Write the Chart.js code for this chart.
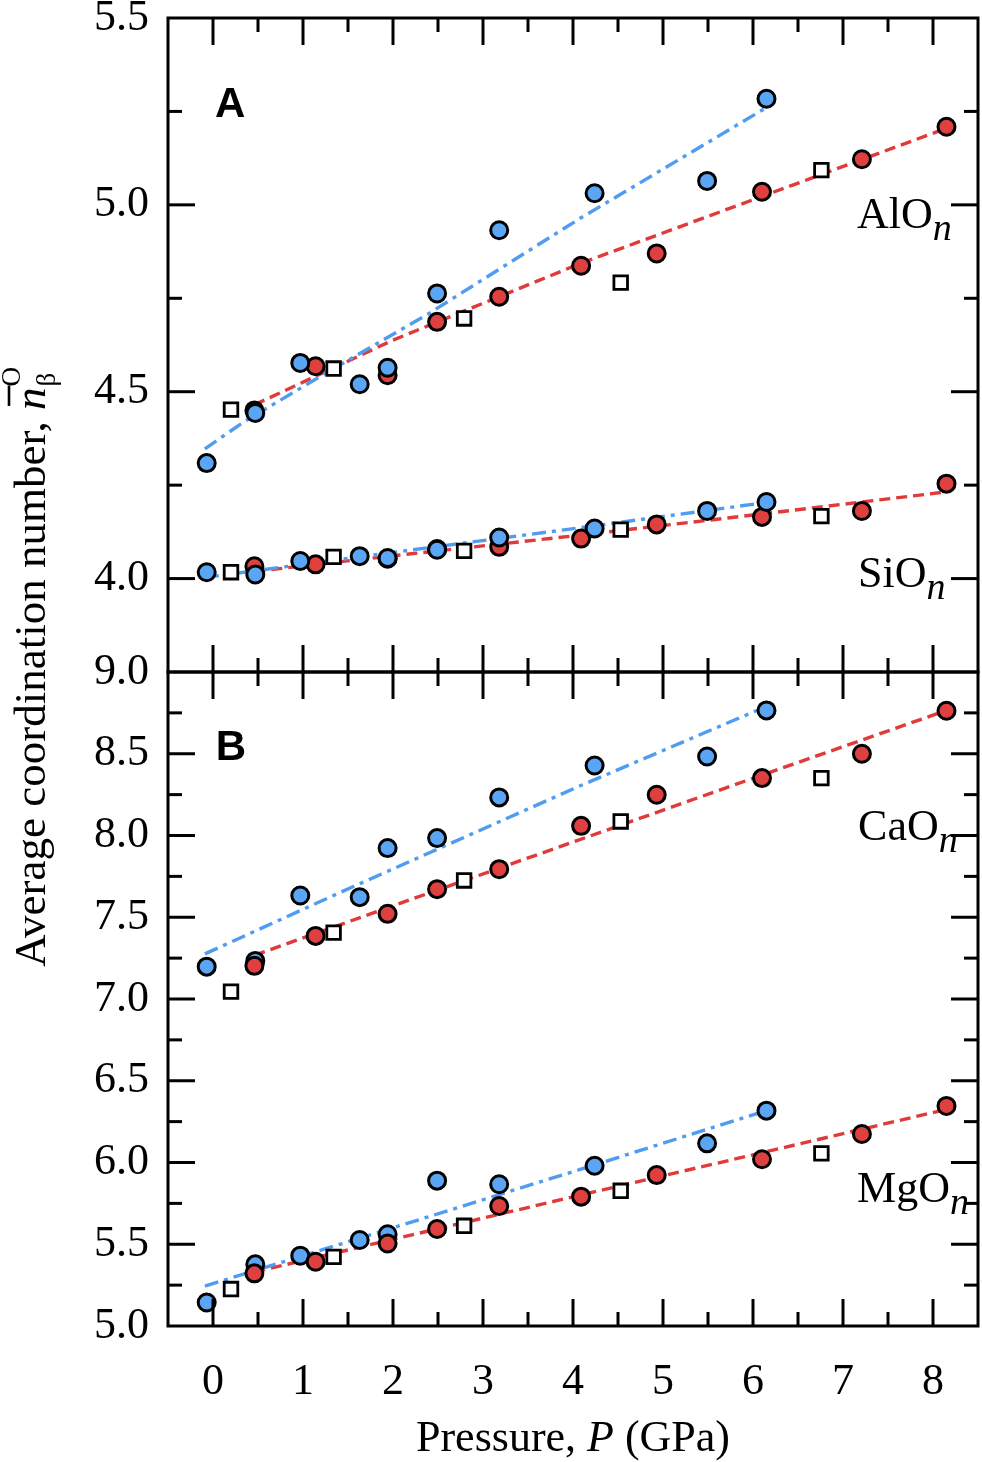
<!DOCTYPE html>
<html>
<head>
<meta charset="utf-8">
<script src="https://cdn.jsdelivr.net/npm/chart.js@4.4.1/dist/chart.umd.min.js"></script>
<style>
html,body{margin:0;padding:0;background:#fff;}
#c{display:block;}
</style>
</head>
<body>
<canvas id="c" width="982" height="1462" style="width:982px;height:1462px"></canvas>
<script>
// ---- pressures (GPa) ----
const pressBlue   = [-0.07, 0.47, 0.97, 1.63, 1.94, 2.49, 3.18, 4.24, 5.49, 6.15];
const pressRed    = [0.46, 1.14, 1.94, 2.49, 3.18, 4.09, 4.93, 6.10, 7.21, 8.15];
const pressSquare = [0.20, 1.34, 2.79, 4.53, 6.76];

// ---- panel A: AlO_n ----
const alBlue   = [4.309, 4.443, 4.577, 4.520, 4.564, 4.763, 4.932, 5.031, 5.064, 5.284];
const alRed    = [4.450, 4.568, 4.544, 4.687, 4.754, 4.837, 4.870, 5.035, 5.122, 5.209];
const alSquare = [4.452, 4.562, 4.696, 4.792, 5.093];
const alBlueFitP = [-0.09, 0.34, 1.34, 2.37, 4.08, 6.14];
const alBlueFit  = [4.347, 4.419, 4.562, 4.705, 4.964, 5.259];
const alRedFitP  = [0.46, 2.00, 4.08, 6.15, 8.15];
const alRedFit   = [4.465, 4.638, 4.843, 5.027, 5.205];

// ---- panel A: SiO_n ----
const siBlue   = [4.017, 4.011, 4.047, 4.060, 4.055, 4.077, 4.110, 4.134, 4.181, 4.205];
const siRed    = [4.033, 4.038, 4.053, 4.079, 4.085, 4.107, 4.145, 4.165, 4.181, 4.254];
const siSquare = [4.017, 4.058, 4.074, 4.131, 4.167];
const siBlueFitP = [-0.09, 2.00, 4.08, 6.13];
const siBlueFit  = [4.003, 4.070, 4.136, 4.203];
const siRedFitP  = [0.46, 2.00, 4.00, 6.00, 8.15];
const siRedFit   = [4.019, 4.061, 4.114, 4.170, 4.232];

// ---- panel B: CaO_n ----
const caBlue   = [7.198, 7.233, 7.633, 7.623, 7.923, 7.984, 8.233, 8.428, 8.483, 8.765];
const caRed    = [7.203, 7.386, 7.521, 7.672, 7.794, 8.059, 8.249, 8.351, 8.500, 8.763];
const caSquare = [7.045, 7.406, 7.725, 8.086, 8.351];
const caBlueFitP = [-0.09, 1.56, 4.08, 6.10];
const caBlueFit  = [7.276, 7.688, 8.304, 8.778];
const caRedFitP  = [0.46, 2.00, 4.00, 6.00, 8.15];
const caRedFit   = [7.267, 7.570, 7.960, 8.350, 8.765];

// ---- panel B: MgO_n ----
const mgBlue   = [5.144, 5.377, 5.430, 5.526, 5.561, 5.889, 5.867, 5.980, 6.117, 6.317];
const mgRed    = [5.322, 5.393, 5.505, 5.593, 5.734, 5.791, 5.923, 6.020, 6.174, 6.346];
const mgSquare = [5.226, 5.423, 5.613, 5.827, 6.056];
const mgBlueFitP = [-0.09, 1.94, 4.08, 6.05];
const mgBlueFit  = [5.244, 5.590, 5.958, 6.300];
const mgRedFitP  = [0.46, 2.00, 4.00, 6.00, 8.15];
const mgRedFit   = [5.330, 5.530, 5.790, 6.047, 6.325];

// ---- ticks ----
const xLabelTicks = [0, 1, 2, 3, 4, 5, 6, 7, 8];
const xMinorTicks = [0.5, 1.5, 2.5, 3.5, 4.5, 5.5, 6.5, 7.5];
const yALabelTicks = [4.0, 4.5, 5.0, 5.5];
const yAMajorTicks = [4.0, 4.5, 5.0];
const yAMinorTicks = [3.75, 4.25, 4.75, 5.25];
const yBLabelTicks = [5.0, 5.5, 6.0, 6.5, 7.0, 7.5, 8.0, 8.5, 9.0];
const yBMajorTicks = [5.5, 6.0, 6.5, 7.0, 7.5, 8.0, 8.5];
const yBMinorTicks = [5.25, 5.75, 6.25, 6.75, 7.25, 7.75, 8.25, 8.75];

// ---- styles ----
const BLUE = '#5BA6F4';
const RED = '#DE4040';
const LBLUE = '#4F9CF0';
const LRED = '#E03A3A';
const SERIF = '"Liberation Serif", "Times New Roman", serif';
const SANS = '"Liberation Sans", Arial, sans-serif';

function pts(xs, ys) { return xs.map((x, i) => ({ x: x, y: ys[i] })); }

function fitLine(xs, ys, axis, color, dash) {
  return { type: 'scatter', data: pts(xs, ys), yAxisID: axis, showLine: true,
    borderColor: color, borderWidth: 3.4, borderDash: dash, pointRadius: 0,
    pointHoverRadius: 0, fill: false, order: 20 };
}
function circles(xs, ys, axis, color, order) {
  return { type: 'scatter', data: pts(xs, ys), yAxisID: axis, showLine: false,
    pointStyle: 'circle', pointRadius: 8.5, pointBorderWidth: 3,
    pointBackgroundColor: color, pointBorderColor: '#000', order: order };
}
function squares(xs, ys, axis) {
  return { type: 'scatter', data: pts(xs, ys), yAxisID: axis, showLine: false,
    pointStyle: 'rect', pointRadius: 9.6, pointBorderWidth: 2.8,
    pointBackgroundColor: '#fff', pointBorderColor: '#000', order: 5 };
}

const dashBlue = [14, 6, 4, 6];
const dashRed = [11, 6];

const datasets = [
  fitLine(alBlueFitP, alBlueFit, 'yA', LBLUE, dashBlue),
  fitLine(alRedFitP, alRedFit, 'yA', LRED, dashRed),
  fitLine(siBlueFitP, siBlueFit, 'yA', LBLUE, dashBlue),
  fitLine(siRedFitP, siRedFit, 'yA', LRED, dashRed),
  fitLine(caBlueFitP, caBlueFit, 'yB', LBLUE, dashBlue),
  fitLine(caRedFitP, caRedFit, 'yB', LRED, dashRed),
  fitLine(mgBlueFitP, mgBlueFit, 'yB', LBLUE, dashBlue),
  fitLine(mgRedFitP, mgRedFit, 'yB', LRED, dashRed),
  // panel A: blue drawn over red
  circles(pressRed, alRed, 'yA', RED, 4),
  circles(pressBlue, alBlue, 'yA', BLUE, 3),
  circles(pressRed, siRed, 'yA', RED, 4),
  circles(pressBlue, siBlue, 'yA', BLUE, 3),
  squares(pressSquare, alSquare, 'yA'),
  squares(pressSquare, siSquare, 'yA'),
  // panel B: red drawn over blue
  circles(pressBlue, caBlue, 'yB', BLUE, 4),
  circles(pressRed, caRed, 'yB', RED, 3),
  circles(pressBlue, mgBlue, 'yB', BLUE, 4),
  circles(pressRed, mgRed, 'yB', RED, 3),
  squares(pressSquare, caSquare, 'yB'),
  squares(pressSquare, mgSquare, 'yB')
];

function zeroPad(s) { s.paddingTop = 0; s.paddingBottom = 0; s.paddingLeft = 0; s.paddingRight = 0; }

const tickFont = { family: SERIF, size: 44 };

const framePlugin = {
  id: 'frameTicks',
  afterDatasetsDraw(chart) {
    const ctx = chart.ctx;
    const xs = chart.scales.x;
    const L = chart.chartArea.left, R = chart.chartArea.right;
    const MAJ = 27, MIN = 14;
    ctx.save();
    ctx.strokeStyle = '#000';
    ctx.lineWidth = 3;
    ctx.lineCap = 'butt';
    const seg = (x1, y1, x2, y2) => { ctx.beginPath(); ctx.moveTo(x1, y1); ctx.lineTo(x2, y2); ctx.stroke(); };
    const panels = [
      { id: 'yA', major: yAMajorTicks, minor: yAMinorTicks },
      { id: 'yB', major: yBMajorTicks, minor: yBMinorTicks }
    ];
    for (const p of panels) {
      const ys = chart.scales[p.id];
      const T = ys.top, B = ys.bottom;
      for (const v of xLabelTicks) {
        const px = xs.getPixelForValue(v);
        seg(px, T, px, T + MAJ); seg(px, B, px, B - MAJ);
      }
      for (const v of xMinorTicks) {
        const px = xs.getPixelForValue(v);
        seg(px, T, px, T + MIN); seg(px, B, px, B - MIN);
      }
      for (const v of p.major) {
        const py = ys.getPixelForValue(v);
        seg(L, py, L + MAJ, py); seg(R, py, R - MAJ, py);
      }
      for (const v of p.minor) {
        const py = ys.getPixelForValue(v);
        if (py <= T + 1 || py >= B - 1) continue;
        seg(L, py, L + MIN, py); seg(R, py, R - MIN, py);
      }
      ctx.strokeRect(L, T, R - L, B - T);
    }
    ctx.restore();
  }
};

function drawSeq(ctx, segs, x, y) {
  let cx = x;
  for (const s of segs) {
    ctx.font = s.font;
    ctx.fillText(s.text, cx, y + (s.dy || 0));
    cx += ctx.measureText(s.text).width;
  }
  return cx;
}
function seqWidth(ctx, segs) {
  let w = 0;
  for (const s of segs) { ctx.font = s.font; w += ctx.measureText(s.text).width; }
  return w;
}

const textPlugin = {
  id: 'texts',
  afterDraw(chart) {
    const ctx = chart.ctx;
    const xs = chart.scales.x, yA = chart.scales.yA, yB = chart.scales.yB;
    ctx.save();
    ctx.fillStyle = '#000';
    ctx.textAlign = 'left';
    ctx.textBaseline = 'alphabetic';
    const reg = '44px ' + SERIF;
    const ital = 'italic 38px ' + SERIF;
    // material labels
    const mats = [
      ['AlO', xs.getPixelForValue(7.156), yA.getPixelForValue(4.938)],
      ['SiO', xs.getPixelForValue(7.167), yA.getPixelForValue(3.977)],
      ['CaO', xs.getPixelForValue(7.167), yB.getPixelForValue(7.974)],
      ['MgO', xs.getPixelForValue(7.156), yB.getPixelForValue(5.758)]
    ];
    for (const m of mats) {
      drawSeq(ctx, [{ text: m[0], font: reg }, { text: 'n', font: ital, dy: 12 }], m[1], m[2]);
    }
    // panel letters
    ctx.font = 'bold 42px ' + SANS;
    ctx.textAlign = 'center';
    ctx.textBaseline = 'middle';
    ctx.fillText('A', xs.getPixelForValue(0.19), yA.getPixelForValue(5.265));
    ctx.fillText('B', xs.getPixelForValue(0.20), yB.getPixelForValue(8.534));
    // x title
    ctx.textAlign = 'left';
    ctx.textBaseline = 'alphabetic';
    const xt = [
      { text: 'Pressure, ', font: reg },
      { text: 'P', font: 'italic 44px ' + SERIF },
      { text: ' (GPa)', font: reg }
    ];
    const cxMid = (chart.chartArea.left + chart.chartArea.right) / 2;
    drawSeq(ctx, xt, cxMid - seqWidth(ctx, xt) / 2, 1451);
    // y title (rotated)
    ctx.translate(45, 667);
    ctx.rotate(-Math.PI / 2);
    const titleFont = '45px ' + SERIF;
    const main = [{ text: 'Average coordination number, ', font: titleFont }];
    const nFont = 'italic 45px ' + SERIF;
    const smallFont = '27px ' + SERIF;
    const wMain = seqWidth(ctx, main);
    ctx.font = nFont; const wN = ctx.measureText('n').width;
    ctx.font = smallFont; const wB = ctx.measureText('\u03B2').width; const wO = ctx.measureText('O').width;
    const total = wMain + wN + Math.max(wB, wO) + 1;
    let x0 = -total / 2;
    x0 = drawSeq(ctx, main, x0, 0);
    ctx.font = nFont; ctx.fillText('n', x0, 0);
    ctx.lineWidth = 2.6; ctx.strokeStyle = '#000';
    ctx.beginPath(); ctx.moveTo(x0 + 4, -36); ctx.lineTo(x0 + wN + 2, -36); ctx.stroke();
    const xs2 = x0 + wN + 1;
    ctx.font = smallFont;
    ctx.fillText('\u03B2', xs2, 10);
    ctx.fillText('O', xs2, -25);
    ctx.restore();
  }
};

new Chart(document.getElementById('c'), {
  type: 'scatter',
  data: { datasets: datasets },
  options: {
    responsive: false,
    animation: false,
    events: [],
    layout: { autoPadding: false, padding: { top: 18, right: 4, left: 0, bottom: 0 } },
    plugins: { legend: { display: false }, tooltip: { enabled: false } },
    scales: {
      x: {
        type: 'linear', position: 'bottom', min: -0.5, max: 8.5,
        grid: { display: false, drawTicks: false }, border: { display: false },
        afterBuildTicks: s => { s.ticks = xLabelTicks.map(v => ({ value: v })); },
        ticks: { font: tickFont, color: '#000', padding: 30, maxRotation: 0, autoSkip: false,
                 callback: v => String(v) },
        afterFit: s => { zeroPad(s); s.height = 136; }
      },
      yB: {
        type: 'linear', position: 'left', stack: 'panels', stackWeight: 1, min: 5.0, max: 9.0,
        grid: { display: false, drawTicks: false }, border: { display: false },
        afterBuildTicks: s => { s.ticks = yBLabelTicks.map(v => ({ value: v })); },
        ticks: { font: tickFont, color: '#000', padding: 19, autoSkip: false,
                 callback: v => Number(v).toFixed(1) },
        afterFit: s => { zeroPad(s); s.width = 168; }
      },
      yA: {
        type: 'linear', position: 'left', stack: 'panels', stackWeight: 1, min: 3.75, max: 5.5,
        grid: { display: false, drawTicks: false }, border: { display: false },
        afterBuildTicks: s => { s.ticks = yALabelTicks.map(v => ({ value: v })); },
        ticks: { font: tickFont, color: '#000', padding: 19, autoSkip: false,
                 callback: v => Number(v).toFixed(1) },
        afterFit: s => { zeroPad(s); s.width = 168; }
      }
    }
  },
  plugins: [framePlugin, textPlugin]
});
</script>
</body>
</html>
